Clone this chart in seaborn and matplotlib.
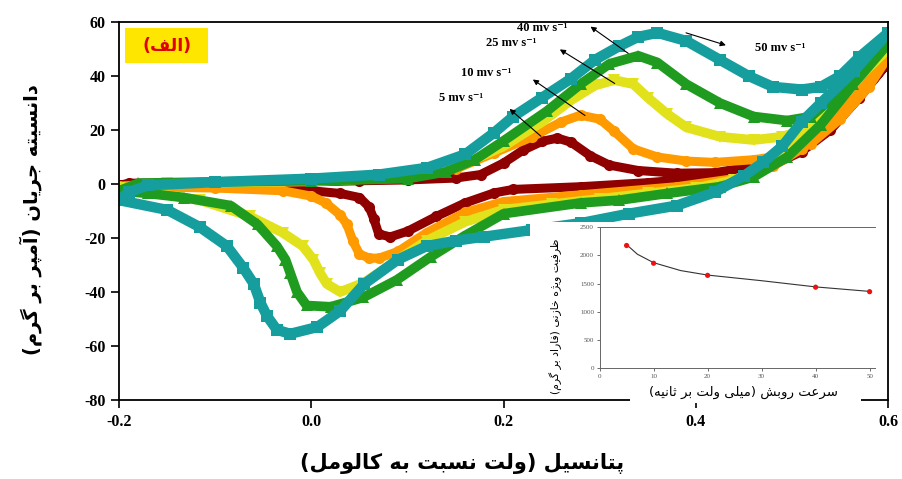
import matplotlib
matplotlib.use('Agg')
import matplotlib.pyplot as plt
from matplotlib.patches import Rectangle
import seaborn as sns

# cyclic voltammograms (potential V vs SCE, current density A/g)
# each curve: forward sweep -0.2 -> 0.6 then backward sweep 0.6 -> -0.2
v_5 = [-0.2, -0.19, -0.15, -0.1, -0.05, 0.0, 0.05, 0.1, 0.15, 0.176, 0.2, 0.22, 0.24, 0.256, 0.27, 0.29,
       0.31, 0.34, 0.38, 0.42, 0.45, 0.48, 0.51, 0.54, 0.57, 0.6,
       0.57, 0.54, 0.51, 0.48, 0.45, 0.4, 0.35, 0.28, 0.21, 0.19, 0.16, 0.13, 0.1, 0.082, 0.07,
       0.065, 0.06, 0.05, 0.03, 0.0, -0.05, -0.1, -0.15, -0.2]
i_5 = [-0.5, 0.3, 0.4, 0.5, 0.6, 0.8, 1.2, 1.5, 2.2, 3.5, 7.8, 12.5, 15.8, 17, 15.5, 10.5,
       7, 5, 4, 4.2, 6, 8.5, 13, 21, 32, 45,
       32, 20, 12, 7, 4.4, 2, 0.5, -1, -2, -3.3, -7, -12, -17.5, -19.6, -18.5,
       -13, -8.5, -5, -3.5, -2.5, -1.5, -1, -0.8, -0.5]

v_10 = [-0.2, -0.15, -0.1, 0.0, 0.1, 0.15, 0.19, 0.23, 0.26, 0.28, 0.3, 0.315, 0.335, 0.36, 0.39,
        0.42, 0.46, 0.49, 0.52, 0.55, 0.58, 0.6,
        0.57, 0.54, 0.51, 0.48, 0.45, 0.38, 0.28, 0.2, 0.16, 0.12, 0.09, 0.07, 0.06, 0.05, 0.043,
        0.037, 0.03, 0.015, 0.0, -0.03, -0.1, -0.15, -0.2]
i_10 = [-0.8, 0.3, 0.5, 1, 2.5, 5.5, 11.5, 17.5, 23, 25.5, 24, 19.5, 13, 10, 8.5,
        8, 9, 10.5, 15, 24, 36, 47,
        34, 22, 13, 6.5, 2.5, -1, -4, -6.5, -10.5, -18, -25, -27.5, -27.4, -26, -21,
        -15, -11.5, -7, -4.5, -2.5, -1.5, -1.2, -1]

v_25 = [-0.2, -0.15, -0.1, 0.0, 0.1, 0.15, 0.2, 0.24, 0.27, 0.295, 0.315, 0.335, 0.35, 0.37, 0.39,
        0.425, 0.46, 0.49, 0.51, 0.55, 0.58, 0.6,
        0.565, 0.53, 0.5, 0.47, 0.44, 0.4, 0.35, 0.3, 0.25, 0.2, 0.16, 0.12, 0.09, 0.055, 0.03,
        0.016, 0.009, 0.002, -0.009, -0.03, -0.064, -0.116, -0.16, -0.2]
i_25 = [-1.5, 0.3, 0.6, 1, 2.5, 6, 14, 23, 31, 36.5, 38.5, 37, 32, 26, 21,
        17.5, 16.3, 17.5, 20, 32, 44, 50,
        38, 25, 14, 6, 1.5, -1.5, -3.5, -5.5, -7.5, -9.5, -14, -21, -28, -36.5, -40,
        -37, -33, -28, -23, -18, -12, -6, -3.5, -1.5]

v_40 = [-0.2, -0.18, -0.1, 0.0, 0.1, 0.14, 0.17, 0.2, 0.245, 0.28, 0.31, 0.34, 0.36, 0.39, 0.425,
        0.46, 0.495, 0.52, 0.545, 0.57, 0.6,
        0.564, 0.53, 0.495, 0.46, 0.425, 0.37, 0.32, 0.28, 0.2, 0.158, 0.124, 0.089, 0.054, 0.02,
        -0.005, -0.015, -0.022, -0.027, -0.036, -0.056, -0.084, -0.133, -0.17, -0.2]
i_40 = [-2.5, 0.3, 0.8, 1.2, 2, 4.5, 9, 16, 27, 37, 44.5, 47.5, 45, 37, 30,
        25, 23.5, 25, 33, 42, 52,
        37, 22, 10, 2.6, -1, -3.5, -6, -7, -11, -19.5, -27, -35.5, -42, -45.5,
        -45, -40, -33, -28, -23, -15, -8, -5, -3.5, -2.5]

v_50 = [-0.2, -0.19, -0.17, -0.1, 0.0, 0.07, 0.12, 0.16, 0.19, 0.21, 0.24, 0.27, 0.295, 0.32, 0.34,
        0.36, 0.39, 0.425, 0.455, 0.48, 0.51, 0.53, 0.55, 0.57, 0.6,
        0.565, 0.53, 0.51, 0.49, 0.47, 0.45, 0.42, 0.38, 0.33, 0.28, 0.23, 0.18, 0.15, 0.12, 0.09,
        0.055, 0.03, 0.006, -0.022, -0.036, -0.046, -0.053, -0.06, -0.071, -0.088, -0.116, -0.15, -0.2]
i_50 = [-6, -3, -0.5, 0.7, 2, 3.5, 6, 11, 19, 25, 32, 39, 46, 51, 54.5,
        56, 53, 46, 40, 36, 35, 36, 40, 47, 56,
        42, 30, 23, 14, 8, 3, -3, -8, -11, -14.5, -17, -19.5, -21, -23, -28,
        -37, -47, -53, -55.5, -54, -49, -44, -37, -31, -23, -16, -9.6, -6]

# inset: specific capacitance vs scan rate
rate = [5, 10, 20, 40, 50]
capacitance = [2175, 1860, 1645, 1435, 1355]
fit_rate = [5, 7, 10, 15, 20, 30, 40, 50]
fit_cap = [2190, 2020, 1870, 1730, 1650, 1550, 1440, 1360]

x_ticks = [-0.2, 0.0, 0.2, 0.4, 0.6]
y_ticks = [-80, -60, -40, -20, 0, 20, 40, 60]


# simple Persian shaping (presentation forms + right-to-left order)
FORMS = {
    'ا': ('\uFE8D', '\uFE8E', None, None), 'آ': ('\uFE81', '\uFE82', None, None),
    'ب': ('\uFE8F', '\uFE90', '\uFE91', '\uFE92'), 'پ': ('\uFB56', '\uFB57', '\uFB58', '\uFB59'),
    'ت': ('\uFE95', '\uFE96', '\uFE97', '\uFE98'), 'ث': ('\uFE99', '\uFE9A', '\uFE9B', '\uFE9C'),
    'ج': ('\uFE9D', '\uFE9E', '\uFE9F', '\uFEA0'), 'خ': ('\uFEA5', '\uFEA6', '\uFEA7', '\uFEA8'),
    'د': ('\uFEA9', '\uFEAA', None, None), 'ر': ('\uFEAD', '\uFEAE', None, None),
    'ز': ('\uFEAF', '\uFEB0', None, None), 'ژ': ('\uFB8A', '\uFB8B', None, None),
    'س': ('\uFEB1', '\uFEB2', '\uFEB3', '\uFEB4'), 'ش': ('\uFEB5', '\uFEB6', '\uFEB7', '\uFEB8'),
    'ظ': ('\uFEC5', '\uFEC6', '\uFEC7', '\uFEC8'), 'ع': ('\uFEC9', '\uFECA', '\uFECB', '\uFECC'),
    'ف': ('\uFED1', '\uFED2', '\uFED3', '\uFED4'), 'ک': ('\uFB8E', '\uFB8F', '\uFB90', '\uFB91'),
    'گ': ('\uFB92', '\uFB93', '\uFB94', '\uFB95'), 'ل': ('\uFEDD', '\uFEDE', '\uFEDF', '\uFEE0'),
    'م': ('\uFEE1', '\uFEE2', '\uFEE3', '\uFEE4'), 'ن': ('\uFEE5', '\uFEE6', '\uFEE7', '\uFEE8'),
    'ه': ('\uFEE9', '\uFEEA', '\uFEEB', '\uFEEC'), 'و': ('\uFEED', '\uFEEE', None, None),
    'ی': ('\uFBFC', '\uFBFD', '\uFBFE', '\uFBFF'),
}


def fa(text):
    out = []
    for k, ch in enumerate(text):
        if ch not in FORMS:
            out.append(ch)
            continue
        prev = text[k - 1] if k > 0 else ''
        nxt = text[k + 1] if k + 1 < len(text) else ''
        join_prev = prev in FORMS and FORMS[prev][2] is not None
        join_next = FORMS[ch][2] is not None and nxt in FORMS
        if join_prev and join_next:
            out.append(FORMS[ch][3])
        elif join_prev:
            out.append(FORMS[ch][1])
        elif join_next:
            out.append(FORMS[ch][2])
        else:
            out.append(FORMS[ch][0])
    mirror = {'(': ')', ')': '('}
    return ''.join(mirror.get(c, c) for c in reversed(out))


sns.set_style('ticks')
plt.rcParams['font.family'] = ['Liberation Serif', 'DejaVu Sans']
plt.rcParams['font.weight'] = 'bold'
plt.rcParams['axes.unicode_minus'] = False
plt.rcParams['text.color'] = 'black'
plt.rcParams['axes.labelcolor'] = 'black'
plt.rcParams['xtick.color'] = 'black'
plt.rcParams['ytick.color'] = 'black'

fig = plt.figure(figsize=(9.03, 4.79), dpi=100)
ax = fig.add_axes([0.132, 0.165, 0.8515, 0.789])

curves = [
    (v_5, i_5, '#8f0000', 'o', 6.5, 8),
    (v_10, i_10, '#ff9a00', 'o', 6.5, 8),
    (v_25, i_25, '#e2e21c', 'v', 7, 9),
    (v_40, i_40, '#1f9c1f', '^', 7, 9),
    (v_50, i_50, '#169e9e', 's', 7.5, 8),
]
for v, cur, col, mk, lw, ms in curves:
    sns.lineplot(x=v, y=cur, sort=False, estimator=None, color=col, linewidth=lw,
                 marker=mk, markersize=ms, markeredgewidth=0, ax=ax)

ax.set_xlim(-0.2, 0.6)
ax.set_ylim(-80, 60)
ax.set_xticks(x_ticks)
ax.set_yticks(y_ticks)
ax.set_xticklabels(['%.1f' % t for t in x_ticks])
ax.tick_params(direction='out', length=6, width=1.2, labelsize=11.5, pad=4)
for s in ax.spines.values():
    s.set_linewidth(1.3)
    s.set_color('black')

ax.set_xlabel(fa('پتانسیل (ولت نسبت به کالومل)'), fontsize=15, family=['DejaVu Sans'],
              fontweight='bold')
ax.xaxis.set_label_coords(0.446, -0.14)
ax.set_ylabel(fa('دانسیته جریان (آمپر بر گرم)'), fontsize=14, family=['DejaVu Sans'],
              fontweight='bold')
ax.yaxis.set_label_coords(-0.1, 0.476)

# panel tag
ax.add_patch(Rectangle((-0.1938, 44.8), 0.0864, 13.0, fc='#ffe600', ec='none', zorder=6))
ax.text(-0.1506, 51.3, fa('(الف)'), color='#e00000', fontsize=12.5, family=['DejaVu Sans'],
        fontweight='bold', ha='center', va='center', zorder=7)

# scan-rate labels with arrows
labels = [
    ('40', (0.240, 57.8), (0.288, 58.9), (0.332, 47.8)),
    ('25', (0.208, 52.2), (0.256, 50.4), (0.318, 36.7)),
    ('10', (0.182, 41.1), (0.228, 39.3), (0.287, 24.8)),
    ('5', (0.156, 31.9), (0.204, 28.5), (0.241, 17.0)),
    ('50', (0.488, 50.4), (0.434, 51.1), (0.387, 56.3)),
]
for rt, pos, head, tail in labels:
    ax.text(pos[0], pos[1], rt + ' mv s\u207b\u00b9', fontsize=9, fontweight='bold',
            ha='center', va='center', zorder=7)
    ax.annotate('', xy=head, xytext=tail, zorder=7,
                arrowprops=dict(arrowstyle='-|>', color='black', lw=0.8, mutation_scale=8))

# white panel behind the inset
ax.add_patch(Rectangle((0.587, 0.171), 0.392, 0.366, transform=fig.transFigure,
                       fc='white', ec='none', zorder=5, clip_on=False))
ax.add_patch(Rectangle((0.698, 0.158), 0.255, 0.016, transform=fig.transFigure,
                       fc='white', ec='none', zorder=5, clip_on=False))

ax_in = fig.add_axes([0.664, 0.2317, 0.305, 0.294])
sns.lineplot(x=fit_rate, y=fit_cap, color='#333333', linewidth=0.8, ax=ax_in)
sns.scatterplot(x=rate, y=capacitance, color='#ee1111', s=14, edgecolor='none', ax=ax_in, zorder=3)
ax_in.set_xlim(0, 51)
ax_in.set_ylim(0, 2500)
ax_in.set_xticks([0, 10, 20, 30, 40, 50])
ax_in.set_yticks([0, 500, 1000, 1500, 2000, 2500])
ax_in.tick_params(labelsize=5, length=2, width=0.6, colors='#555555', pad=2)
for t in ax_in.get_xticklabels() + ax_in.get_yticklabels():
    t.set_fontweight('normal')
for side in ['left', 'bottom', 'top']:
    ax_in.spines[side].set_linewidth(0.7)
    ax_in.spines[side].set_color('#666666')
ax_in.spines['right'].set_visible(False)
ax_in.set_xlabel(fa('سرعت روبش (میلی ولت بر ثانیه)'), fontsize=9.5, family=['DejaVu Sans'],
                 fontweight='normal')
ax_in.xaxis.set_label_coords(0.524, -0.125)
ax_in.set_ylabel(fa('ظرفیت ویژه خازنی (فاراد بر گرم)'), fontsize=7.8, family=['DejaVu Sans'],
                 fontweight='normal')
ax_in.yaxis.set_label_coords(-0.135, 0.37)

fig.savefig('out.png', dpi=100)
